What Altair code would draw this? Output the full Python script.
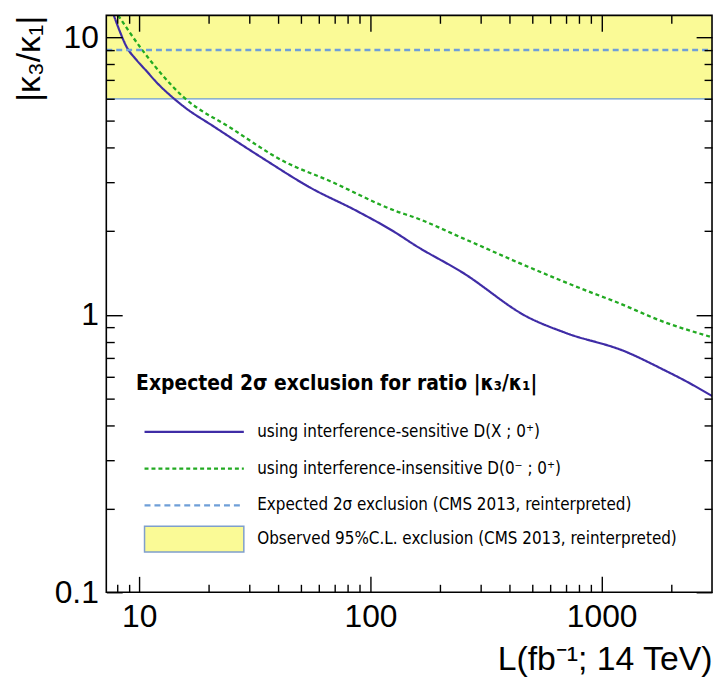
import altair as alt
import pandas as pd

# axis ranges
XMIN, XMAX = 7.2, 3000
YMIN, YMAX = 0.1, 12

# expected 2 sigma exclusion, interference-sensitive discriminant
lumi_sens = [7.2, 7.77, 8.24, 8.83, 9.65, 10.65, 12.0, 13.6, 15.7, 21, 35, 55, 87, 128, 156,
             250, 480, 700, 1250, 1900, 2230, 3000]
kappa_sens = [14.7, 11.98, 10.5, 9.21, 8.35, 7.62, 6.82, 6.18, 5.6, 4.77, 3.62, 2.87, 2.37, 1.98, 1.78,
              1.42, 0.98, 0.86, 0.74, 0.627, 0.586, 0.51]

# expected 2 sigma exclusion, interference-insensitive discriminant
lumi_insens = [7.5, 8.1, 10.2, 15.5, 25, 42, 67, 128, 156, 250, 480, 920, 1100, 1900, 3000]
kappa_insens = [13.2, 12.0, 9.1, 6.1, 4.7, 3.58, 3.03, 2.37, 2.24, 1.89, 1.49, 1.195, 1.13, 0.936, 0.83]

# CMS 2013 limits (reinterpreted)
expected_cms = 9.0
observed_cms = 6.0

series_names = [
    "using interference-sensitive D(X ; 0⁺)",
    "using interference-insensitive D(0⁻ ; 0⁺)",
    "Expected 2σ exclusion (CMS 2013, reinterpreted)",
]
series_colors = ["#3f2ca6", "#22aa22", "#6f9fd8"]
series_dash = [[1, 0], [4, 3], [6, 4]]
series_width = [2.2, 2.4, 1.3]
band_name = "Observed 95%C.L. exclusion (CMS 2013, reinterpreted)"

x_major = [10, 100, 1000]
x_minor = [8, 9, 20, 30, 40, 50, 60, 70, 80, 90,
           200, 300, 400, 500, 600, 700, 800, 900, 2000]
y_major = [0.1, 1, 10]
y_minor = [0.2, 0.3, 0.4, 0.5, 0.6, 0.7, 0.8, 0.9, 2, 3, 4, 5, 6, 7, 8, 9]

lines_df = pd.concat([
    pd.DataFrame({'L': lumi_sens, 'k': kappa_sens, 'series': series_names[0]}),
    pd.DataFrame({'L': lumi_insens, 'k': kappa_insens, 'series': series_names[1]}),
    pd.DataFrame({'L': [XMIN, XMAX], 'k': [expected_cms, expected_cms], 'series': series_names[2]}),
])
band_df = pd.DataFrame({'x0': [XMIN], 'x1': [XMAX], 'y0': [observed_cms], 'y1': [YMAX], 'label': [band_name]})
frame_df = pd.DataFrame({'x0': [XMIN], 'x1': [XMAX], 'y0': [YMIN], 'y1': [YMAX]})

xs = alt.Scale(type='log', domain=[XMIN, XMAX], nice=False)
ys = alt.Scale(type='log', domain=[YMIN, YMAX], nice=False)

AXIS_FONT = "'Liberation Sans', Arial, sans-serif"
LEG_FONT = "'Liberation Sans Narrow', 'DejaVu Sans Condensed', 'Liberation Sans', sans-serif"


def tick_axis(orient, values, size, **kw):
    # inward ticks: pull the axis into the plot by its tick length
    opts = dict(orient=orient, values=values, tickSize=size, offset=-size,
                domain=False, grid=False, labels=False, title=None,
                tickColor='black', tickWidth=1.4, zindex=1)
    opts.update(kw)
    return alt.Axis(**opts)


x_bottom = tick_axis('bottom', x_major, 16, labels=True, format='~g',
                     labelFont=AXIS_FONT, labelFontSize=32, labelColor='black',
                     labelPadding=9, title='L(fb⁻¹; 14 TeV)', titleAnchor='end',
                     titleFont=AXIS_FONT, titleFontSize=34, titleFontWeight='normal',
                     titleColor='black', titlePadding=11)
y_left = tick_axis('left', y_major, 16, labels=True, format='~g',
                   labelFont=AXIS_FONT, labelFontSize=32, labelColor='black',
                   labelPadding=8, title='|κ₃/κ₁|', titleAnchor='end',
                   titleFont=AXIS_FONT, titleFontSize=34, titleFontWeight='normal',
                   titleColor='black', titlePadding=8)

band = alt.Chart(band_df).mark_rect(clip=True).encode(
    x=alt.X('x0:Q', scale=xs, axis=x_bottom),
    x2='x1:Q',
    y=alt.Y('y0:Q', scale=ys, axis=y_left),
    y2='y1:Q',
    fill=alt.Fill('label:N', scale=alt.Scale(domain=[band_name], range=['#fafa96']),
                  legend=alt.Legend(orient='none', legendX=30, legendY=519, title=None,
                                    padding=0, labelFont=LEG_FONT, labelFontSize=17,
                                    labelColor='black', labelLimit=600, labelOffset=105,
                                    symbolType='M0,-2.6H20V2.6H0Z', symbolSize=100,
                                    symbolStrokeColor='#7f9fcc', symbolStrokeWidth=1.5,
                                    symbolOpacity=1)),
)

edge = alt.Chart(band_df).mark_rule(color='#6b9bd6', strokeWidth=1.3).encode(
    x=alt.X('x0:Q', scale=xs, axis=tick_axis('bottom', x_minor, 8)),
    x2='x1:Q',
    y=alt.Y('y0:Q', scale=ys, axis=tick_axis('left', y_minor, 8)),
)

line_legend = alt.Legend(orient='none', legendX=30, legendY=360, padding=0,
                         title='Expected 2σ exclusion for ratio |κ₃/κ₁|',
                         titleFont=LEG_FONT, titleFontSize=21, titleFontWeight='bold',
                         titleColor='black', titlePadding=30, titleLimit=600,
                         labelFont=LEG_FONT, labelFontSize=17, labelColor='black',
                         labelLimit=600, labelOffset=105, rowPadding=19,
                         symbolType='M0,0H20', symbolSize=100, symbolStrokeWidth=1.6)

lines = alt.Chart(lines_df).mark_line(clip=True, interpolate='monotone').encode(
    x=alt.X('L:Q', scale=xs, axis=tick_axis('top', x_major, 16)),
    y=alt.Y('k:Q', scale=ys, axis=tick_axis('right', y_major, 16)),
    color=alt.Color('series:N', scale=alt.Scale(domain=series_names, range=series_colors),
                    legend=line_legend),
    strokeDash=alt.StrokeDash('series:N', scale=alt.Scale(domain=series_names, range=series_dash),
                              legend=line_legend),
    strokeWidth=alt.StrokeWidth('series:N', scale=alt.Scale(domain=series_names, range=series_width),
                                legend=None),
)

frame = alt.Chart(frame_df).mark_rect(filled=False, stroke='black', strokeWidth=1.6).encode(
    x=alt.X('x0:Q', scale=xs, axis=tick_axis('top', x_minor, 8)),
    x2='x1:Q',
    y=alt.Y('y0:Q', scale=ys, axis=tick_axis('right', y_minor, 8)),
    y2='y1:Q',
)

chart = alt.layer(band, edge, lines, frame).resolve_scale(
    x='shared', y='shared'
).resolve_axis(
    x='independent', y='independent'
).properties(
    width=610,
    height=581,
    autosize='none',
    padding={'left': 99, 'top': 5, 'right': 2, 'bottom': 92},
    background='white'
).configure_view(
    strokeWidth=0
)

chart.save("out.html", embed_options={"renderer": "svg", "actions": False})
